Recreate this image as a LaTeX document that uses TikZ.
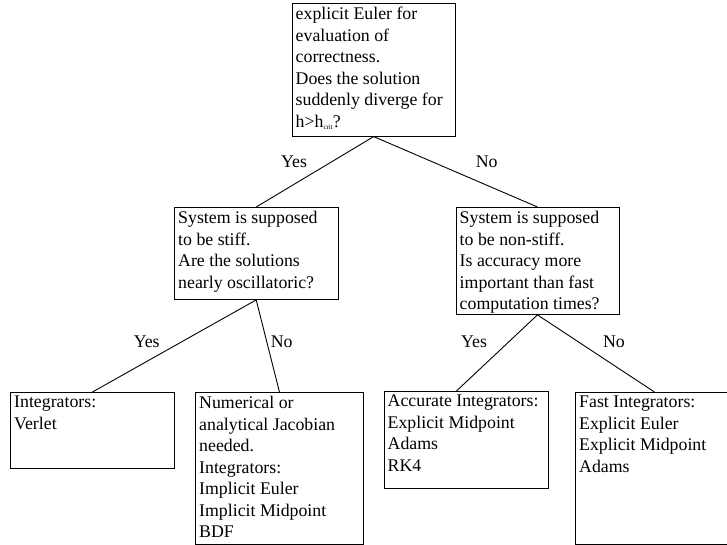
\documentclass[tikz,border=0pt]{standalone}
\usepackage{fontspec}
\setmainfont{Liberation Serif}
\begin{document}
\begin{tikzpicture}[x=1pt,y=-1pt,
  box/.style={draw=black, line width=0.9pt, inner sep=0pt, anchor=north west},
  txt/.style={anchor=north west, inner sep=0pt, align=left, font=\fontsize{17.8}{21.5}\selectfont},
  lbl/.style={anchor=base, inner sep=0pt, font=\fontsize{17.8}{21.5}\selectfont},
  conn/.style={draw=black, line width=0.9pt}]
\useasboundingbox (0,0) rectangle (727,545);
\clip (0,0) rectangle (727,545);
\fill[white] (0,0) rectangle (727,545);
% boxes
\node[box, minimum width=163.5pt, minimum height=132.7pt] (top) at (291.5,3) {};
\node[box, minimum width=163.5pt, minimum height=92pt] (stiff) at (174,207) {};
\node[box, minimum width=163pt, minimum height=107pt] (nonstiff) at (455.5,207) {};
\node[box, minimum width=164pt, minimum height=76pt] (verlet) at (10,392) {};
\node[box, minimum width=168pt, minimum height=152pt] (jac) at (195,392) {};
\node[box, minimum width=164pt, minimum height=97pt] (acc) at (383.5,391) {};
\node[box, minimum width=158pt, minimum height=152pt] (fast) at (575,392) {};
% texts
\node[txt] (ttop) at ([shift={(4,4)}]top.north west) {explicit Euler for\\evaluation of\\correctness.\\Does the solution\\suddenly diverge for\\h>h\raisebox{-2.5pt}{\fontsize{7}{7}\selectfont crit}?};
\node[txt] (tstiff) at ([shift={(4,4)}]stiff.north west) {System is supposed\\to be stiff.\\Are the solutions\\nearly oscillatoric?};
\node[txt] (tnonstiff) at ([shift={(4,4)}]nonstiff.north west) {System is supposed\\to be non-stiff.\\Is accuracy more\\important than fast\\computation times?};
\node[txt] (tverlet) at ([shift={(4,4)}]verlet.north west) {Integrators:\\Verlet};
\node[txt] (tjac) at ([shift={(4,4)}]jac.north west) {Numerical or\\analytical Jacobian\\needed.\\Integrators:\\Implicit Euler\\Implicit Midpoint\\BDF};
\node[txt] (tacc) at ([shift={(4,4)}]acc.north west) {Accurate Integrators:\\Explicit Midpoint\\Adams\\RK4};
\node[txt] (tfast) at ([shift={(4,4)}]fast.north west) {Fast Integrators:\\Explicit Euler\\Explicit Midpoint\\Adams};
% connectors
\coordinate (accin) at ([xshift=-9.5pt]acc.north);
\draw[conn] (top.south) -- (stiff.north);
\draw[conn] (top.south) -- (nonstiff.north);
\draw[conn] (stiff.south) -- (verlet.north);
\draw[conn] (stiff.south) -- (jac.north);
\draw[conn] (nonstiff.south) -- (accin);
\draw[conn] (nonstiff.south) -- (fast.north);
% labels
\node[lbl] (l1) at (294,168) {Yes};
\node[lbl] (l2) at (486.7,168) {No};
\node[lbl] (l3) at (146.7,347) {Yes};
\node[lbl] (l4) at (281.7,347) {No};
\node[lbl] (l5) at (474,347) {Yes};
\node[lbl] (l6) at (614,347) {No};
\end{tikzpicture}
\end{document}
